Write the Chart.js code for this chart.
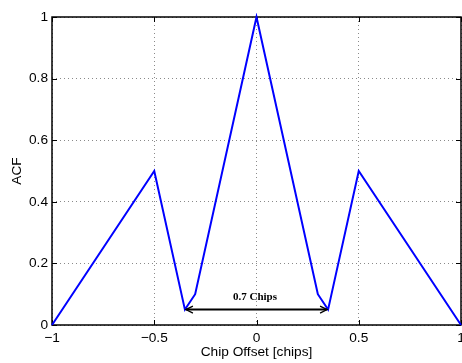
<!DOCTYPE html>
<html>
<head>
<meta charset="utf-8">
<script src="https://cdn.jsdelivr.net/npm/chart.js@4/dist/chart.umd.min.js"></script>
<style>
  html, body { margin: 0; padding: 0; background: #fff; }
  #wrap { width: 462px; height: 363px; }
</style>
</head>
<body>
<div id="wrap"><canvas id="c" width="462" height="363"></canvas></div>
<script>
// Autocorrelation vs. chip offset
const offsets = [-1, -0.5, -0.35, -0.3, 0, 0.3, 0.35, 0.5, 1];
const acf     = [0, 0.5, 0.05, 0.1, 1, 0.1, 0.05, 0.5, 0];

// Tick positions
const xTicks = [-1, -0.5, 0, 0.5, 1];
const yTicks = [0, 0.2, 0.4, 0.6, 0.8, 1];

// Width marker between the two side minima
const spanEnds = [-0.35, 0.35];
const spanY = 0.05;
const spanLabelY = 0.091;
const spanLabel = '0.7 Chips';

const FONT = '"Liberation Sans", Arial, Helvetica, sans-serif';
const fmt = v => (v < 0 ? '\u2212' + Math.abs(v) : String(v));

const frame = {
  id: 'frame',
  beforeDatasetsDraw(chart) {
    const { ctx, chartArea: a, scales: { x, y } } = chart;
    ctx.save();
    ctx.strokeStyle = '#000';
    ctx.lineWidth = 1.5;
    ctx.strokeRect(a.left, a.top, a.right - a.left, a.bottom - a.top);
    ctx.lineWidth = 1;
    const L = 5;
    ctx.beginPath();
    xTicks.forEach(v => {
      const px = Math.round(x.getPixelForValue(v)) + 0.5;
      ctx.moveTo(px, a.bottom); ctx.lineTo(px, a.bottom - L);
      ctx.moveTo(px, a.top); ctx.lineTo(px, a.top + L);
    });
    yTicks.forEach(v => {
      const py = Math.round(y.getPixelForValue(v)) + 0.5;
      ctx.moveTo(a.left, py); ctx.lineTo(a.left + L, py);
      ctx.moveTo(a.right, py); ctx.lineTo(a.right - L, py);
    });
    ctx.stroke();
    ctx.restore();
  },
  afterDatasetsDraw(chart) {
    const { ctx, scales: { x, y } } = chart;
    const x0 = x.getPixelForValue(spanEnds[0]);
    const x1 = x.getPixelForValue(spanEnds[1]);
    const py = y.getPixelForValue(spanY);
    ctx.save();
    ctx.strokeStyle = '#000';
    ctx.fillStyle = '#000';
    ctx.lineWidth = 2;
    ctx.beginPath();
    ctx.moveTo(x0 + 1, py); ctx.lineTo(x1 - 1, py);
    ctx.stroke();
    ctx.lineWidth = 1.3;
    ctx.beginPath();
    ctx.moveTo(x0 + 8, py - 3.5); ctx.lineTo(x0 + 1, py); ctx.lineTo(x0 + 8, py + 3.5);
    ctx.moveTo(x1 - 8, py - 3.5); ctx.lineTo(x1 - 1, py); ctx.lineTo(x1 - 8, py + 3.5);
    ctx.stroke();
    ctx.font = 'bold 11px "Liberation Serif", "Times New Roman", serif';
    ctx.textAlign = 'center';
    ctx.textBaseline = 'middle';
    ctx.fillText(spanLabel, (x0 + x1) / 2 - 1.5, y.getPixelForValue(spanLabelY));
    ctx.restore();
  }
};

new Chart(document.getElementById('c'), {
  type: 'line',
  data: {
    datasets: [{
      data: offsets.map((v, i) => ({ x: v, y: acf[i] })),
      borderColor: '#0000ff',
      borderWidth: 2,
      pointRadius: 0,
      tension: 0,
      fill: false,
      clip: 4
    }]
  },
  options: {
    responsive: false,
    animation: false,
    devicePixelRatio: 1,
    layout: { padding: { top: 17, right: 1, left: 0, bottom: 0 } },
    plugins: { legend: { display: false }, tooltip: { enabled: false } },
    scales: {
      x: {
        type: 'linear',
        min: -1, max: 1,
        afterBuildTicks: s => { s.ticks = xTicks.map(v => ({ value: v })); },
        afterFit: s => { s.height = 38; s.paddingLeft = 0; s.paddingRight = 0; },
        ticks: { callback: fmt, color: '#000', padding: 5, maxRotation: 0, font: { family: FONT, size: 13.7 } },
        grid: { color: '#8a8a8a', lineWidth: 1, drawTicks: false },
        border: { display: false, dash: [1, 3] },
        title: { display: true, text: 'Chip Offset [chips]', color: '#000', padding: { top: 0, bottom: 3 }, font: { family: FONT, size: 13.7 } }
      },
      y: {
        min: 0, max: 1,
        afterBuildTicks: s => { s.ticks = yTicks.map(v => ({ value: v })); },
        afterFit: s => { s.width = 52; s.paddingTop = 0; s.paddingBottom = 0; },
        ticks: { callback: fmt, color: '#000', padding: 4, font: { family: FONT, size: 13.7 } },
        grid: { color: '#8a8a8a', lineWidth: 1, drawTicks: false },
        border: { display: false, dash: [1, 3] },
        title: { display: true, text: 'ACF', color: '#000', padding: { top: 9, bottom: 0 }, font: { family: FONT, size: 13.7 } }
      }
    }
  },
  plugins: [frame]
});
</script>
</body>
</html>
